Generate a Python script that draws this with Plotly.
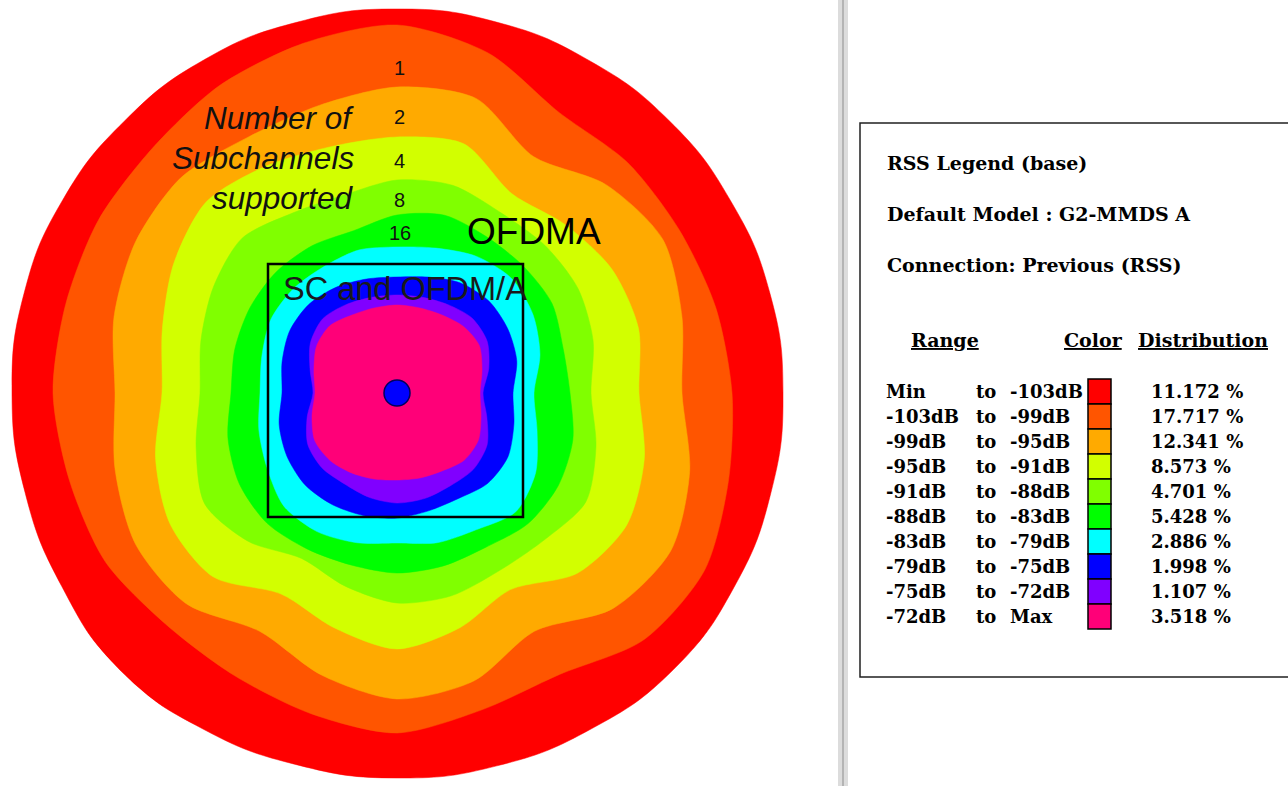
import plotly.graph_objects as go

W, H = 1288, 786
CX, CY = 397, 393          # centre of the coverage map (px)
R_MAX = 392                # radial range shown (px)

# ---- coverage boundaries: outer radius (px) of each RSS band, read at every 15 deg ----
theta_deg = [0, 15, 30, 45, 60, 75, 90, 105, 120, 135, 150, 165,
             180, 195, 210, 225, 240, 255, 270, 285, 300, 315, 330, 345]

r_min_103 = [386, 386, 385, 385, 384, 384, 384, 384, 385, 385, 386, 386,
             385, 385, 387, 392, 388, 385, 385, 386, 388, 391, 389, 387]
r_103_99 = [335, 330, 326, 326, 324, 352, 368, 362, 355, 346, 345, 343,
            344, 339, 337, 327, 326, 332, 340, 328, 325, 349, 355, 343]
r_99_95 = [285, 295, 307, 295, 273, 305, 306, 298, 296, 305, 302, 293,
           282, 292, 302, 298, 275, 292, 306, 298, 275, 305, 316, 303]
r_95_91 = [242, 250, 248, 238, 230, 258, 256, 255, 262, 270, 258, 243,
           235, 250, 262, 260, 232, 243, 256, 243, 227, 255, 265, 256]
r_91_88 = [194, 203, 209, 209, 208, 215, 213, 205, 208, 219, 212, 203,
           197, 208, 222, 210, 191, 200, 210, 210, 205, 208, 218, 206]
r_88_83 = [173, 172, 179, 179, 180, 184, 178, 168, 170, 171, 170, 168,
           166, 175, 182, 184, 180, 178, 180, 179, 178, 185, 186, 182]
r_83_79 = [137, 148, 157, 162, 158, 150, 146, 148, 146, 147, 146, 140,
           137, 143, 150, 160, 160, 155, 150, 155, 158, 168, 160, 145]
r_79_75 = [116, 124, 128, 130, 127, 120, 116, 118, 122, 125, 124, 119,
           115, 122, 127, 130, 129, 127, 125, 122, 122, 128, 128, 121]
r_75_72 = [86, 95, 104, 106, 102, 99, 98, 99, 102, 105, 100, 90,
           84, 93, 103, 106, 105, 108, 110, 109, 107, 108, 104, 93]
r_72_max = [83, 88, 95, 94, 90, 88, 88, 88, 90, 95, 93, 86,
            82, 88, 95, 95, 92, 89, 87, 88, 90, 95, 94, 87]

# ---- legend contents ----
range_from = ["Min", "-103dB", "-99dB", "-95dB", "-91dB", "-88dB", "-83dB", "-79dB", "-75dB", "-72dB"]
range_to = ["-103dB", "-99dB", "-95dB", "-91dB", "-88dB", "-83dB", "-79dB", "-75dB", "-72dB", "Max"]
band_colors = ["#FF0000", "#FF5500", "#FFAA00", "#D2FF00", "#80FF00",
               "#00FF00", "#00FFFF", "#0000FF", "#8000FF", "#FF0078"]
distribution = [11.172, 17.717, 12.341, 8.573, 4.701, 5.428, 2.886, 1.998, 1.107, 3.518]

subchannels = ["1", "2", "4", "8", "16"]
subchannel_y = [68, 117, 161, 200, 233]

band_radii = [r_min_103, r_103_99, r_99_95, r_95_91, r_91_88,
              r_88_83, r_83_79, r_79_75, r_75_72, r_72_max]


def px(x):
    return x / W


def py(y):
    return 1 - y / H


fig = go.Figure()

for k, (radii, col, lo, hi) in enumerate(zip(band_radii, band_colors, range_from, range_to)):
    fig.add_trace(go.Scatterpolar(
        r=radii + radii[:1], theta=theta_deg + theta_deg[:1],
        mode="lines", fill="toself", fillcolor=col,
        line=dict(color=col, width=0.5, shape="spline", smoothing=1.3 if k == 0 else 0.8),
        name=f"{lo} to {hi}", hoverinfo="name", showlegend=False))

# transmitter
fig.add_trace(go.Scatterpolar(
    r=[0], theta=[0], mode="markers",
    marker=dict(size=26, color="#0000FF", line=dict(color="#000060", width=1.5)),
    showlegend=False, hoverinfo="skip"))

shapes = []
# SC and OFDMA box
shapes.append(dict(type="rect", xref="paper", yref="paper",
                   x0=px(268), x1=px(523), y0=py(517), y1=py(264),
                   line=dict(color="black", width=2.5)))
# window separator
shapes.append(dict(type="rect", xref="paper", yref="paper",
                   x0=px(838), x1=px(848), y0=0, y1=1,
                   fillcolor="#dcdcdc", line=dict(width=0)))
shapes.append(dict(type="line", xref="paper", yref="paper",
                   x0=px(843), x1=px(843), y0=0, y1=1,
                   line=dict(color="#b4b4b4", width=2)))
# legend frame
shapes.append(dict(type="rect", xref="paper", yref="paper",
                   x0=px(860), x1=px(1292), y0=py(677), y1=py(123),
                   line=dict(color="#202020", width=1.5), fillcolor="white"))

row_y0 = 379
row_h = 25
for i, col in enumerate(band_colors):
    shapes.append(dict(type="rect", xref="paper", yref="paper",
                       x0=px(1088), x1=px(1111),
                       y0=py(row_y0 + (i + 1) * row_h), y1=py(row_y0 + i * row_h),
                       fillcolor=col, line=dict(color="black", width=1.5)))

annotations = []
serif = dict(family="DejaVu Serif", size=18, color="black", weight="bold")
sans = "Liberation Sans"


def ann(x, y, text, font, xanchor="left"):
    annotations.append(dict(xref="paper", yref="paper", x=px(x), y=py(y), text=text,
                            showarrow=False, xanchor=xanchor, yanchor="middle", font=font))


title_font = dict(serif, size=19)
ann(885, 163, "RSS Legend (base)", title_font)
ann(885, 214, "Default Model : G2-MMDS A", title_font)
ann(885, 265, "Connection: Previous (RSS)", title_font)
ann(909, 340, '<span style="text-decoration:underline">Range</span>', title_font)
ann(1062, 340, '<span style="text-decoration:underline">Color</span>', title_font)
ann(1136, 340, '<span style="text-decoration:underline">Distribution</span>', title_font)

for i in range(len(range_from)):
    yc = row_y0 + i * row_h + row_h / 2
    ann(884, yc, range_from[i], serif)
    ann(974, yc, "to", serif)
    ann(1008, yc, range_to[i], serif)
    ann(1149, yc, f"{distribution[i]:.3f} %", serif)

# map labels
num_font = dict(family=sans, size=20, color="#111111")
for lbl, y in zip(subchannels, subchannel_y):
    ann(400, y, lbl, num_font, xanchor="center")

ital = dict(family=sans, size=31.5, color="#111111", style="italic")
ann(356, 118, "Number of", ital, xanchor="right")
ann(356, 158, "Subchannels", ital, xanchor="right")
ann(356, 198, "supported", ital, xanchor="right")
ann(465, 231, "OFDMA", dict(family=sans, size=37, color="black"))
ann(281, 289, "SC and OFDM/A", dict(family=sans, size=32.5, color="#1a1a1a"))

fig.update_layout(
    width=W, height=H, autosize=False,
    margin=dict(l=0, r=0, t=0, b=0),
    paper_bgcolor="white", plot_bgcolor="white",
    polar=dict(
        domain=dict(x=[px(CX - R_MAX), px(CX + R_MAX)], y=[py(CY + R_MAX), py(CY - R_MAX)]),
        bgcolor="rgba(0,0,0,0)",
        radialaxis=dict(visible=False, range=[0, R_MAX]),
        angularaxis=dict(visible=False, rotation=0, direction="counterclockwise"),
    ),
    shapes=shapes, annotations=annotations, showlegend=False,
)

fig.write_html("out.html", config={"displayModeBar": False},
               post_script="document.body.style.margin='0';")
